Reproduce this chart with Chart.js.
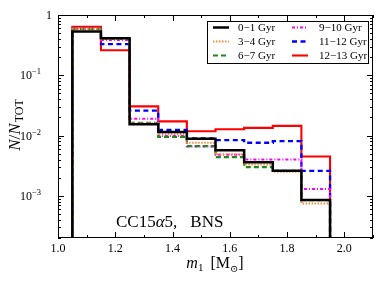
<!DOCTYPE html>
<html>
<head>
<meta charset="utf-8">
<script src="https://cdn.jsdelivr.net/npm/chart.js@4/dist/chart.umd.min.js"></script>
<style>
  html, body { margin: 0; padding: 0; background: #fff; }
  #wrap { width: 382px; height: 288px; }
</style>
</head>
<body>
<div id="wrap"><canvas id="histChart" width="382" height="288"></canvas></div>
<script>
// Bin edges of m1 (Msun) and the normalised counts per age bin
const binEdges = [1.05, 1.15, 1.25, 1.35, 1.45, 1.55, 1.65, 1.75, 1.85, 1.95];
const seriesLabels = ['0\u22121 Gyr', '3\u22124 Gyr', '6\u22127 Gyr', '9\u221210 Gyr', '11\u221212 Gyr', '12\u221213 Gyr'];
const age0to1   = [0.53, 0.41, 0.0154, 0.0115, 0.0089, 0.0057, 0.0036, 0.0026, 0.00085];
const age3to4   = [0.59, 0.40, 0.0160, 0.0106, 0.0076, 0.0049, 0.0033, 0.0025, 0.00075];
const age6to7   = [0.59, 0.40, 0.0162, 0.0095, 0.0067, 0.0044, 0.0030, 0.0026, 0.00085];
const age9to10  = [0.59, 0.385, 0.019, 0.0098, 0.0066, 0.0048, 0.0040, 0.0040, 0.0013];
const age11to12 = [0.59, 0.33, 0.026, 0.0124, 0.0090, 0.0084, 0.0076, 0.0081, 0.0026];
const age12to13 = [0.64, 0.26, 0.0305, 0.0172, 0.0118, 0.0127, 0.0134, 0.0145, 0.0045];

const xTickLabels = ['1.0', '1.2', '1.4', '1.6', '1.8', '2.0'];
const yTickExps = [0, -1, -2, -3];

const FONT = '"Liberation Serif", "DejaVu Serif", serif';
const FLOOR = 1e-7; // below the axis, so the outline drops to the bottom

// histtype='step' outline
const steps = (vals) => {
    const pts = [{ x: binEdges[0], y: FLOOR }];
    vals.forEach((v, i) => {
        pts.push({ x: binEdges[i], y: v }, { x: binEdges[i + 1], y: v });
    });
    pts.push({ x: binEdges[vals.length], y: FLOOR });
    return pts;
};

const styles = [
    { color: '#000000', width: 2.5, dash: [] },
    { color: '#ff8a3d', width: 2, dash: [1.5, 1.5] },
    { color: '#1f8a1f', width: 2.2, dash: [5, 3] },
    { color: '#ff00ff', width: 2, dash: [3, 2, 1, 2] },
    { color: '#0000ff', width: 2.3, dash: [5, 3.5] },
    { color: '#ff0000', width: 2.1, dash: [] }
];
const allSeries = [age0to1, age3to4, age6to7, age9to10, age11to12, age12to13];

const datasets = allSeries.map((vals, i) => ({
    label: seriesLabels[i],
    data: steps(vals),
    borderColor: styles[i].color,
    borderWidth: styles[i].width,
    borderDash: styles[i].dash,
    borderCapStyle: 'butt',
    borderJoinStyle: 'miter',
    pointRadius: 0,
    tension: 0,
    fill: false
}));

// draw a run of text pieces, each {t, size, italic, dy}
const measureRun = (ctx, parts) => parts.reduce((w, p) => {
    ctx.font = `${p.italic ? 'italic ' : ''}${p.size}px ${FONT}`;
    return w + ctx.measureText(p.t).width + (p.gap || 0);
}, 0);
const drawRun = (ctx, parts, x, y) => {
    parts.forEach(p => {
        ctx.font = `${p.italic ? 'italic ' : ''}${p.size}px ${FONT}`;
        ctx.fillText(p.t, x, y + (p.dy || 0));
        x += ctx.measureText(p.t).width + (p.gap || 0);
    });
};

const decorPlugin = {
    id: 'decor',
    afterDatasetsDraw(chart) {
        const { ctx, chartArea: a, scales: { x, y } } = chart;
        ctx.save();
        ctx.strokeStyle = '#000';
        ctx.fillStyle = '#000';
        ctx.lineWidth = 1;

        // frame
        ctx.strokeRect(Math.round(a.left) + 0.5, Math.round(a.top) + 0.5,
            Math.round(a.right - a.left) - 1, Math.round(a.bottom - a.top) - 1);

        const tick = (x1, y1, x2, y2) => {
            ctx.beginPath(); ctx.moveTo(x1, y1); ctx.lineTo(x2, y2); ctx.stroke();
        };

        // x ticks, inward, top and bottom
        for (let k = 0; k <= 11; k++) {
            const v = 1.0 + k * 0.1;
            const px = Math.round(x.getPixelForValue(v)) + 0.5;
            const len = k % 2 === 0 ? 6 : 3;
            tick(px, a.bottom, px, a.bottom - len);
            tick(px, a.top, px, a.top + len);
        }
        // y ticks, log
        for (let e = -4; e <= 0; e++) {
            for (let m = 1; m <= 9; m++) {
                const v = m * Math.pow(10, e);
                if (v < 2e-4 || v > 1) continue;
                const py = Math.round(y.getPixelForValue(v)) + 0.5;
                const len = m === 1 ? 6 : 3;
                tick(a.left, py, a.left + len, py);
                tick(a.right, py, a.right - len, py);
            }
        }

        // x tick labels
        ctx.textAlign = 'left';
        ctx.textBaseline = 'alphabetic';
        ctx.font = `12px ${FONT}`;
        xTickLabels.forEach(lbl => {
            const px = x.getPixelForValue(parseFloat(lbl));
            const w = ctx.measureText(lbl).width;
            ctx.fillText(lbl, px - w / 2, a.bottom + 14);
        });

        // y tick labels
        yTickExps.forEach(e => {
            const py = y.getPixelForValue(Math.pow(10, e));
            if (e === 0) {
                ctx.font = `12px ${FONT}`;
                const w = ctx.measureText('1').width;
                ctx.fillText('1', a.left - 6 - w, py + 4);
            } else {
                const parts = [{ t: '10', size: 12 }, { t: '\u2212' + (-e), size: 8.5, dy: -5 }];
                const w = measureRun(ctx, parts);
                drawRun(ctx, parts, a.left - 17 - w, py + 4);
            }
        });

        // x axis title: m_1 [M_sun]
        const xParts = [
            { t: 'm', size: 16, italic: true },
            { t: '1', size: 11, dy: 3, gap: 7 },
            { t: '[M', size: 16 },
            { t: '\u2299', size: 10, dy: 4 },
            { t: ']', size: 16 }
        ];
        const xw = measureRun(ctx, xParts);
        drawRun(ctx, xParts, 215 - xw / 2, 268);

        // y axis title: N/N_TOT
        const yParts = [
            { t: 'N', size: 17, italic: true },
            { t: '/', size: 17 },
            { t: 'N', size: 17, italic: true, gap: 1 },
            { t: 'TOT', size: 12, dy: 3 }
        ];
        const yw = measureRun(ctx, yParts);
        ctx.save();
        ctx.translate(20, 125);
        ctx.rotate(-Math.PI / 2);
        drawRun(ctx, yParts, -yw / 2, 0);
        ctx.restore();

        // model annotation
        drawRun(ctx, [
            { t: 'CC15', size: 17 },
            { t: '\u03b1', size: 17, italic: true },
            { t: '5,', size: 17, gap: 13 },
            { t: 'BNS', size: 17 }
        ], 116, 227);

        // legend
        const box = { l: 207, t: 21, r: 369, b: 64 };
        ctx.fillStyle = '#fff';
        ctx.fillRect(box.l, box.t, box.r - box.l, box.b - box.t);
        ctx.strokeStyle = '#000';
        ctx.lineWidth = 1;
        ctx.strokeRect(box.l + 0.5, box.t + 0.5, box.r - box.l - 1, box.b - box.t - 1);
        const cols = [{ sx: 213, tx: 238 }, { sx: 292, tx: 319 }];
        const rows = [27.5, 41.5, 55.5];
        ctx.font = `11px ${FONT}`;
        datasets.forEach((ds, i) => {
            const c = cols[Math.floor(i / 3)];
            const ry = rows[i % 3];
            ctx.strokeStyle = ds.borderColor;
            ctx.lineWidth = ds.borderWidth;
            ctx.setLineDash(ds.borderDash);
            ctx.beginPath();
            ctx.moveTo(c.sx, ry);
            ctx.lineTo(c.sx + 16, ry);
            ctx.stroke();
            ctx.setLineDash([]);
            ctx.fillStyle = '#000';
            ctx.fillText(ds.label, c.tx, ry + 3.5);
        });
        ctx.restore();
    }
};

new Chart(document.getElementById('histChart'), {
    type: 'line',
    data: { datasets },
    options: {
        responsive: false,
        devicePixelRatio: 1,
        animation: false,
        layout: { padding: { left: 58, right: 9, top: 15, bottom: 50 } },
        scales: {
            x: { type: 'linear', min: 1.0, max: 2.1, display: false },
            y: { type: 'logarithmic', min: 2e-4, max: 1, display: false }
        },
        plugins: { legend: { display: false }, tooltip: { enabled: false } }
    },
    plugins: [decorPlugin]
});
</script>
</body>
</html>
